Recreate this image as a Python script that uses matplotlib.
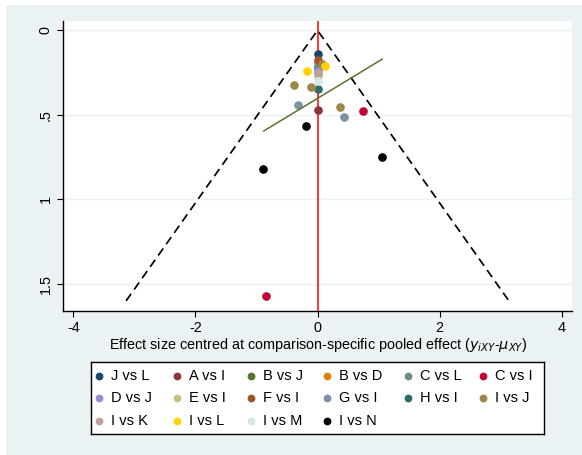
import matplotlib
matplotlib.use('Agg')
import matplotlib.pyplot as plt
from matplotlib.patches import Rectangle

plt.rcParams['font.family'] = ['Liberation Sans', 'DejaVu Sans']
font_size = 10.4

# comparisons and their colours (legend order)
labels = ['J vs L', 'A vs I', 'B vs J', 'B vs D', 'C vs L', 'C vs I',
          'D vs J', 'E vs I', 'F vs I', 'G vs I', 'H vs I', 'I vs J',
          'I vs K', 'I vs L', 'I vs M', 'I vs N']
colors = ['#1a476f', '#90353b', '#55752f', '#e37e00', '#6e8e84', '#c10534',
          '#938dd2', '#cac27e', '#a0522d', '#7b92a8', '#2d6d66', '#9c8847',
          '#bfa19c', '#ffd200', '#d9e6eb', '#000000']

# centred effect sizes (x) and standard errors (y), per comparison
effects = {
    'J vs L': [0.0],
    'A vs I': [0.0],
    'B vs J': [0.0],
    'B vs D': [0.0],
    'C vs L': [0.0],
    'C vs I': [0.75, -0.84],
    'D vs J': [0.0],
    'E vs I': [0.0],
    'F vs I': [0.0],
    'G vs I': [-0.32, 0.43],
    'H vs I': [0.0],
    'I vs J': [0.08, -0.39, -0.105, 0.365],
    'I vs K': [0.0],
    'I vs L': [0.13, -0.175],
    'I vs M': [0.0],
    'I vs N': [-0.19, 1.065, -0.89],
}
std_errors = {
    'J vs L': [0.138],
    'A vs I': [0.469],
    'B vs J': [0.22],
    'B vs D': [0.185],
    'C vs L': [0.209],
    'C vs I': [0.479, 1.571],
    'D vs J': [0.239],
    'E vs I': [0.27],
    'F vs I': [0.176],
    'G vs I': [0.442, 0.515],
    'H vs I': [0.347],
    'I vs J': [0.20, 0.323, 0.335, 0.452],
    'I vs K': [0.254],
    'I vs L': [0.213, 0.241],
    'I vs M': [0.300],
    'I vs N': [0.566, 0.747, 0.822],
}

# pseudo 95% confidence limits
se_max = 1.6
z = 1.96
funnel_x = [-z * se_max, 0, z * se_max]
funnel_y = [se_max, 0, se_max]

# small-study effects line
fit_x = [-0.88, 1.058]
fit_y = [0.595, 0.171]

bg = '#eaf2f3'
fig = plt.figure(figsize=(5.82, 4.55), dpi=100, facecolor='white')
fig.patches.append(Rectangle((6 / 582, 0), 1, 1 - 5 / 455, transform=fig.transFigure,
                             facecolor=bg, edgecolor='none', zorder=-10))

ax = fig.add_axes([63 / 582, 1 - 310.5 / 455, 509 / 582, 289.8 / 455])
ax.set_facecolor('white')
for ytick in [0, 0.5, 1, 1.5]:
    ax.axhline(ytick, color=bg, lw=1, zorder=0)

ax.plot(funnel_x, funnel_y, color='black', lw=1.25, dashes=(5, 3), zorder=2)
ax.axvline(0, color='red', lw=1.1, zorder=2)
for lab, col in zip(labels, colors):
    ax.plot(effects[lab], std_errors[lab], 'o', color=col, ms=5.2,
            mec=col, ls='none', zorder=3)
ax.plot(fit_x, fit_y, color='#55752f', lw=1.1, zorder=4)

ax.set_xlim(-4.17, 4.17)
ax.set_ylim(1.657, -0.057)
ax.set_xticks([-4, -2, 0, 2, 4])
ax.set_xticklabels(['-4', '-2', '0', '2', '4'])
ax.set_yticks([0, 0.5, 1, 1.5])
ax.set_yticklabels(['0', '.5', '1', '1.5'], rotation=90, va='center')
ax.tick_params(labelsize=font_size, length=4.5, width=0.8, pad=3)
for s in ['top', 'right']:
    ax.spines[s].set_visible(False)
for s in ['left', 'bottom']:
    ax.spines[s].set_linewidth(1)

fig.text(318 / 582, 1 - 345 / 455,
         r'Effect size centred at comparison-specific pooled effect ($y_{iXY}$-$\mu_{XY}$)',
         ha='center', va='center', fontsize=font_size)

# legend box
lx0, lx1, ly0, ly1 = 91, 544, 362, 434
leg = fig.add_axes([lx0 / 582, 1 - ly1 / 455, (lx1 - lx0) / 582, (ly1 - ly0) / 455])
leg.set_xlim(lx0, lx1)
leg.set_ylim(ly1, ly0)
leg.set_xticks([])
leg.set_yticks([])
leg.set_facecolor('white')
for s in leg.spines.values():
    s.set_linewidth(1)
col_x = [99.3, 177.3, 250.7, 326.7, 408, 483]
row_y = [375.7, 398.3, 421]
for i, (lab, col) in enumerate(zip(labels, colors)):
    r, c = divmod(i, 6)
    leg.plot([col_x[c]], [row_y[r]], 'o', color=col, ms=4.6, mec=col)
    leg.text(col_x[c] + 12, row_y[r], lab, va='center', ha='left', fontsize=10.5)

fig.savefig('out.png', dpi=100, facecolor=fig.get_facecolor())
